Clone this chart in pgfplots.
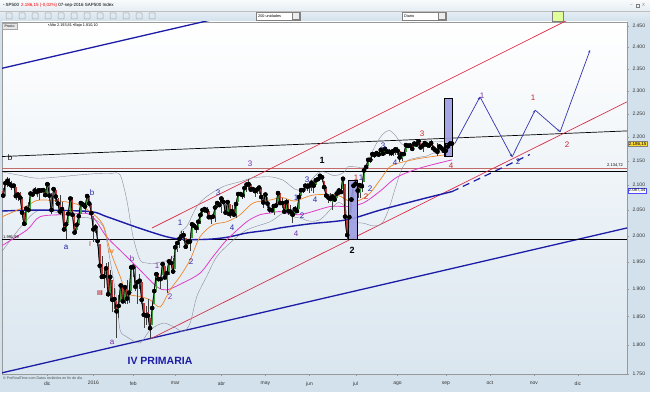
\documentclass[border=0pt]{standalone}
\usepackage{fontspec}
\setmainfont{Liberation Sans}
\usepackage{pgfplots}
\pgfplotsset{compat=1.18}
\usepackage{pgfplotstable}
\usetikzlibrary{arrows.meta}

\definecolor{panel}{HTML}{D2E1EC}
\definecolor{plotbot}{HTML}{DAE6EF}
\definecolor{navy}{HTML}{1C1CA6}
\definecolor{chred}{HTML}{D8304A}
\definecolor{hred}{HTML}{C46A6A}
\definecolor{lav}{HTML}{9C9CE2}
\definecolor{orng}{HTML}{F0862A}
\definecolor{mag}{HTML}{E23CC8}
\definecolor{bgray}{HTML}{8A8A9A}
\definecolor{cgreen}{HTML}{3C9C3C}
\definecolor{cred}{HTML}{C23A3A}
\definecolor{lpurple}{HTML}{7A2EA8}
\definecolor{lblue}{HTML}{2424A8}
\definecolor{lred}{HTML}{C82828}

\pgfplotstableread{
d o h l c
-44 2090 2094 2082 2089
-43 2089 2094 2074 2079
-42 2081 2106 2080 2104
-41 2104 2116 2097 2109
-40 2110 2114 2096 2102
-39 2101 2108 2090 2099
-38 2098 2101 2083 2099
-37 2096 2096 2071 2078
-36 2077 2083 2069 2081
-35 2084 2086 2074 2075
-34 2072 2076 2045 2045
-33 2044 2044 2022 2023
-32 2022 2053 2020 2053
-31 2054 2067 2046 2050
-30 2051 2083 2051 2083
-29 2083 2087 2080 2081
-28 2082 2097 2082 2089
-27 2089 2095 2077 2086
-26 2085 2094 2071 2089
-25 2090 2093 2086 2089
-24 2089 2093 2086 2090
-23 2091 2093 2080 2080
-22 2082 2103 2082 2102
-21 2101 2104 2077 2079
-20 2080 2085 2042 2050
-19 2052 2093 2051 2092
-18 2091 2093 2066 2077
-17 2073 2075 2056 2063
-16 2061 2081 2040 2047
-15 2047 2067 2045 2052
-14 2048 2048 2012 2012
-13 2013 2022 1993 2022
-12 2025 2053 2025 2043
-11 2046 2076 2042 2073
-10 2073 2076 2041 2041
-9 2040 2040 2005 2006
-8 2011 2022 2007 2021
-7 2023 2042 2020 2038
-6 2042 2065 2042 2064
-5 2063 2067 2058 2061
-4 2058 2058 2044 2057
-3 2061 2082 2061 2078
-2 2077 2078 2062 2063
-1 2061 2062 2043 2044
0 2038 2038 1989 2012
1 2014 2022 2005 2016
2 2012 2012 1980 1990
3 1985 1985 1938 1943
4 1946 1961 1918 1922
5 1927 1935 1901 1923
6 1928 1948 1919 1938
7 1940 1950 1886 1890
8 1892 1935 1878 1922
9 1916 1916 1857 1880
10 1888 1901 1864 1881
11 1877 1877 1812 1859
12 1861 1889 1848 1869
13 1877 1909 1877 1906
14 1906 1906 1875 1877
15 1878 1906 1872 1903
16 1903 1916 1872 1882
17 1885 1902 1874 1893
18 1895 1940 1895 1940
19 1936 1947 1921 1940
20 1938 1938 1897 1904
21 1907 1916 1872 1912
22 1911 1927 1900 1915
23 1913 1913 1872 1880
24 1874 1874 1829 1853
25 1848 1868 1834 1852
26 1857 1881 1850 1851
27 1848 1848 1810 1829
28 1834 1865 1834 1865
29 1872 1896 1872 1896
30 1898 1930 1898 1927
31 1927 1930 1915 1918
32 1917 1918 1900 1918
33 1925 1949 1925 1946
34 1943 1943 1919 1921
35 1917 1932 1892 1929
36 1931 1951 1925 1951
37 1955 1962 1940 1948
38 1947 1958 1932 1932
39 1937 1978 1937 1978
40 1975 1987 1969 1986
41 1986 1995 1977 1994
42 1994 2009 1992 1999
43 1996 2008 1990 2001
44 1996 1996 1978 1979
45 1982 1993 1982 1989
46 1991 2005 1970 1989
47 1995 2022 1995 2022
48 2020 2025 2015 2019
49 2015 2017 2006 2015
50 2015 2032 2011 2027
51 2026 2047 2022 2040
52 2041 2052 2041 2050
53 2048 2054 2044 2052
54 2049 2056 2045 2049
55 2048 2048 2035 2036
56 2032 2036 2023 2036
57 2037 2043 2034 2037
58 2036 2056 2027 2055
59 2058 2067 2055 2064
60 2064 2067 2057 2060
61 2056 2075 2044 2073
62 2073 2074 2062 2066
63 2063 2063 2042 2045
64 2045 2067 2039 2066
65 2063 2063 2034 2042
66 2045 2061 2039 2048
67 2050 2062 2041 2041
68 2043 2066 2035 2062
69 2066 2083 2066 2082
70 2082 2087 2079 2082
71 2080 2083 2073 2080
72 2078 2095 2075 2094
73 2096 2104 2087 2101
74 2102 2112 2093 2102
75 2102 2103 2088 2091
76 2092 2096 2084 2092
77 2089 2089 2077 2088
78 2089 2094 2083 2091
79 2093 2099 2083 2095
80 2090 2094 2068 2076
81 2071 2074 2054 2065
82 2067 2084 2067 2081
83 2077 2077 2054 2063
84 2060 2060 2045 2051
85 2053 2060 2045 2050
86 2047 2058 2040 2058
87 2058 2068 2056 2059
88 2062 2084 2062 2084
89 2084 2084 2064 2064
90 2066 2074 2054 2064
91 2063 2065 2043 2047
92 2047 2072 2047 2066
93 2066 2071 2041 2048
94 2048 2061 2038 2047
95 2045 2045 2025 2041
96 2041 2058 2041 2052
97 2052 2056 2047 2048
98 2052 2079 2052 2076
99 2078 2093 2078 2090
100 2091 2093 2084 2090
101 2091 2099 2091 2099
102 2100 2104 2088 2097
103 2094 2100 2085 2099
104 2097 2105 2089 2105
105 2104 2106 2085 2099
106 2100 2113 2100 2110
107 2110 2120 2110 2112
108 2112 2121 2111 2119
109 2115 2117 2107 2116
110 2109 2109 2089 2096
111 2092 2096 2078 2079
112 2077 2082 2064 2075
113 2077 2085 2069 2072
114 2066 2080 2050 2077
115 2078 2078 2071 2071
116 2075 2093 2075 2083
117 2084 2094 2081 2089
118 2090 2093 2084 2086
119 2092 2113 2092 2113
120 2103 2103 2032 2037
121 2031 2031 1992 2001
122 2015 2036 2015 2036
123 2044 2071 2044 2071
124 2073 2099 2071 2099
125 2099 2111 2099 2103
126 2096 2096 2075 2089
127 2084 2102 2075 2100
128 2100 2110 2086 2098
129 2107 2132 2107 2130
130 2132 2144 2132 2137
131 2140 2156 2140 2152
132 2155 2156 2146 2152
133 2157 2169 2157 2164
134 2165 2169 2155 2162
135 2163 2169 2160 2166
136 2164 2166 2159 2163
137 2166 2175 2165 2173
138 2173 2175 2159 2165
139 2167 2176 2163 2175
140 2173 2174 2164 2169
141 2168 2173 2161 2169
142 2170 2174 2159 2166
143 2166 2172 2160 2170
144 2169 2178 2162 2174
145 2174 2178 2162 2171
146 2170 2170 2148 2157
147 2156 2164 2150 2164
148 2163 2168 2159 2164
149 2168 2183 2168 2183
150 2183 2187 2178 2181
151 2182 2187 2179 2182
152 2182 2183 2170 2175
153 2178 2188 2178 2186
154 2183 2186 2180 2184
155 2186 2194 2186 2191
156 2187 2187 2178 2178
157 2178 2183 2168 2182
158 2181 2188 2178 2187
159 2185 2185 2176 2184
160 2181 2185 2176 2182
161 2187 2193 2186 2187
162 2184 2184 2173 2176
163 2175 2179 2169 2172
164 2175 2187 2160 2169
165 2171 2183 2171 2180
166 2181 2183 2172 2176
167 2173 2173 2161 2171
168 2172 2175 2158 2171
169 2177 2185 2173 2180
170 2181 2186 2175 2186
171 2185 2188 2179 2186
}\candles

\begin{document}
\begin{tikzpicture}
\useasboundingbox (0,0) rectangle (650pt,392pt);
\fill[panel] (0,0) rectangle (650pt,392pt);
\shade[top color=white!85!panel, bottom color=panel] (0,370pt) rectangle (650pt,392pt);
\draw[gray!50] (0,381pt) -- (650pt,381pt);

\begin{axis}[
  at={(2pt,18pt)}, anchor=south west,
  scale only axis, width=625pt, height=352pt,
  xmin=-43.6, xmax=254.4,
  ymode=log, ymin=1750, ymax=2458.8,
  axis background/.style={shade, top color=white, bottom color=plotbot},
  axis line style={draw=gray!80},
  xtick={-22,0,19,39,61,82,103,125,145,168,189,210,231},
  xticklabels={dic,2016,feb,mar,abr,may,jun,jul,ago,sep,oct,nov,dic},
  ytick={1750,1800,1850,1900,1950,2000,2050,2100,2150,2200,2250,2300,2350,2400,2450},
  yticklabels={1.750,1.800,1.850,1.900,1.950,2.000,2.050,2.100,2.150,2.200,2.250,2.300,2.350,2.400,2.450},
  yticklabel pos=right,
  tick align=outside, major tick length=2pt,
  tick style={draw=gray!80},
  xtick pos=bottom, ytick pos=right,
  ticklabel style={font=\fontsize{5}{6}\selectfont, text=black!80},
  xticklabel style={yshift=-2pt},
  minor tick num=0,
]
% long trend lines
\addplot[navy, line width=1.3pt] coordinates {(-44.5,2350) (60,2468)};
\addplot[navy, line width=1.3pt] coordinates {(-44.5,1751) (254.5,2015)};
\addplot[black, line width=0.7pt] coordinates {(-44.5,2158.7) (254.5,2213)};
\addplot[hred, line width=1.3pt] coordinates {(-44.5,2134.72) (254.5,2134.72)};
\addplot[black, line width=1.1pt] coordinates {(-44.5,2128) (254.5,2128)};
\addplot[black, line width=1.1pt] coordinates {(-44.5,1991.99) (254.5,1991.99)};
\addplot[chred, line width=0.7pt] coordinates {(28,2015) (232,2478)};
\addplot[chred, line width=0.7pt] coordinates {(27,1810) (254.4,2276)};

% Bollinger bands
\addplot[bgray, line width=0.4pt, smooth] coordinates {
(-44.5,2128) (-35,2120) (-25.5,2114) (-6.4,2121) (3.1,2124) (8.7,2124) (12.7,2121) (15.9,2070) (18.9,1998) (22.2,1954) (25.4,1948) (30.2,1948) (38.1,1960) (41.3,2005) (44.5,2018) (49.3,2057) (54,2077) (61.8,2097) (69.9,2107) (76.1,2115) (84.2,2117) (90,2111) (93,2102) (96,2092) (99,2090) (102,2101) (105,2116) (108,2127) (111,2126) (114,2120) (117,2121) (120,2128) (121,2137) (123,2138) (126,2137) (129,2136) (132,2160) (135,2187) (138,2206) (141,2214) (144,2203) (147,2185) (150,2183) (153,2187) (156,2190) (159,2192) (162,2190) (165,2190) (168,2192) (171,2192)};
\addplot[bgray, line width=0.4pt, smooth] coordinates {
(-44.5,1965) (-34,2020) (-25.4,2050) (-9.7,2037) (-1.6,2034) (4.6,2018) (7.9,1954) (11.1,1880) (12.7,1826) (15.9,1814) (22.2,1803) (27,1826) (33.2,1838) (38,1832) (42.7,1823) (46.1,1838) (49.3,1886) (54,1923) (58.8,1960) (65.1,1986) (73.1,2011) (84.2,2027) (90,2043) (93,2042) (96,2036) (99,2034) (102,2029) (105,2028) (108,2031) (111,2042) (114,2056) (117,2065) (120,2056) (121,2037) (123,2026) (126,2025) (129,2024) (132,2020) (135,2019) (138,2026) (141,2054) (144,2095) (147,2133) (150,2151) (153,2155) (156,2158) (159,2160) (162,2166) (165,2166) (168,2168) (171,2168)};

% 200 SMA
\addplot[navy, line width=1.4pt, smooth] coordinates {
(-44.5,2048) (-25.5,2050) (-1.6,2047) (6.3,2037) (22.2,2014) (35,1998) (42.7,1993) (54,1993) (63.6,1997) (73.1,2005) (84.2,2011) (89,2015) (103.3,2023) (121,2031) (136.7,2050) (155.7,2071) (171,2087)};
\addplot[navy, line width=1.2pt, dash pattern=on 7pt off 5pt] coordinates {(171,2087) (208,2163)};

% magenta average
\addplot[mag, line width=0.8pt, smooth] coordinates {
(-44.5,1979) (-31.7,2011) (-25.4,2037) (-12,2041) (-1.6,2041) (6.3,1998) (14.1,1967) (22.2,1935) (30.2,1904) (35,1898) (42.7,1911) (50.8,1929) (57,1960) (63.6,1992) (73.1,2027) (79.5,2041) (84.2,2044) (89,2047) (98.5,2041) (112.8,2057) (120.8,2057) (128.6,2064) (136.7,2088) (144.6,2116) (155.7,2135) (171,2152)};

% orange average
\addplot[orng, line width=0.7pt, smooth] coordinates {
(-44.5,2035) (-32,2058) (-25.5,2070) (-9.7,2064) (-1.6,2047) (4.6,2021) (7.9,1973) (12.7,1923) (15.9,1892) (22.2,1886) (27,1880) (31.8,1867) (36.5,1898) (41.3,1923) (46.1,1954) (50.8,1998) (57,2021) (63.6,2027) (70,2041) (76.1,2064) (84.2,2070) (90,2075) (96,2068) (104.7,2080) (116,2080) (122.4,2067) (127.1,2070) (131.9,2084) (136.7,2111) (141.4,2138) (146.2,2146) (155.7,2155) (168.5,2163) (171.5,2165)};

% close line (drawn under the candles)
\addplot[black, line width=0.9pt, smooth] table[x=d, y=c] {\candles};

% candles: wicks
\addplot[only marks, mark=none, error bars/.cd, y dir=both, y explicit, error mark=none,
  error bar style={line width=0.4pt, draw=black!75}]
  table[x=d, y=c, y error plus expr=\thisrow{h}-\thisrow{c}, y error minus expr=\thisrow{c}-\thisrow{l}] {\candles};
% up bodies
\addplot[only marks, mark=none, restrict expr to domain={\thisrow{c}-\thisrow{o}}{0:1000},
  error bars/.cd, y dir=minus, y explicit, error mark=none,
  error bar style={line width=1.7pt, draw=cgreen}]
  table[x=d, y=c, y error minus expr=\thisrow{c}-\thisrow{o}] {\candles};
% down bodies
\addplot[only marks, mark=none, restrict expr to domain={\thisrow{o}-\thisrow{c}}{0.5:1000},
  error bars/.cd, y dir=plus, y explicit, error mark=none,
  error bar style={line width=1.7pt, draw=cred}]
  table[x=d, y=c, y error plus expr=\thisrow{o}-\thisrow{c}] {\candles};

% close line overlay (thin)
\addplot[black, line width=0.6pt, smooth] table[x=d, y=c] {\candles};

% highlight boxes
\addplot[fill=lav, fill opacity=0.9, draw=black, line width=0.5pt] coordinates {(121.4,1993) (125.7,1993) (125.7,2110) (121.4,2110) (121.4,1993)};
\addplot[fill=lav, fill opacity=0.9, draw=black, line width=0.5pt] coordinates {(167.2,2159) (171.3,2159) (171.3,2284) (167.2,2284) (167.2,2159)};
\addplot[draw=black, line width=0.5pt] coordinates {(167.6,2159) (171,2159) (171,2186) (167.6,2186) (167.6,2159)};

% projected path
\addplot[navy!90, line width=0.7pt, -{Stealth[length=3pt,width=2.4pt]}] coordinates {(172.4,2187) (184.3,2287)};
\addplot[navy!90, line width=0.7pt, -{Stealth[length=3pt,width=2.4pt]}] coordinates {(184.3,2287) (199.6,2158)};
\addplot[navy!90, line width=0.7pt, -{Stealth[length=3pt,width=2.4pt]}] coordinates {(199.6,2158) (210.6,2258)};
\addplot[navy!90, line width=0.7pt, -{Stealth[length=3pt,width=2.4pt]}] coordinates {(210.6,2258) (222.5,2211)};
\addplot[navy!90, line width=0.7pt, -{Stealth[length=3pt,width=2.4pt]}] coordinates {(222.5,2211) (236.8,2393)};
\end{axis}

% header texts
\node[anchor=west, font=\fontsize{4.5}{5}\selectfont, inner sep=0pt] at (3pt,387pt) {\textcolor{cgreen}{\textbullet}\,SP500 \,\textcolor{red}{2.186,15 (-0,02\%)} 07-sep-2016 SAP500 Index};
\foreach \i in {0,...,11} {\draw[gray!70, line width=0.5pt, rounded corners=0.5pt] ({6pt+\i*13pt},373pt) rectangle ({12pt+\i*13pt},379pt);}
\draw[fill=white, draw=gray] (256pt,372pt) rectangle (300pt,380pt);
\node[anchor=west, font=\fontsize{3.8}{4}\selectfont, inner sep=0pt] at (258pt,376pt) {200 unidades};
\draw[fill=gray!15, draw=gray] (292pt,372.5pt) rectangle (299.5pt,379.5pt);
\draw[fill=white, draw=gray] (402pt,372pt) rectangle (446pt,380pt);
\node[anchor=west, font=\fontsize{3.8}{4}\selectfont, inner sep=0pt] at (404pt,376pt) {Diario};
\draw[fill=gray!15, draw=gray] (438pt,372.5pt) rectangle (445.5pt,379.5pt);
\draw[fill=green!30!yellow!40, draw=gray] (552pt,371pt) rectangle (563pt,381pt);
\node[anchor=west, font=\fontsize{4.5}{5}\selectfont, text=gray, inner sep=0pt] at (630pt,387pt) {\_};
\draw[gray, line width=0.4pt] (636pt,385pt) rectangle (639pt,388pt);
\node[anchor=west, font=\fontsize{4.5}{5}\selectfont, text=gray, inner sep=0pt] at (642pt,387pt) {X};
\draw[fill=gray!20, draw=gray!70] (2pt,363pt) rectangle (17pt,369pt);
\node[font=\fontsize{3.5}{4}\selectfont, inner sep=0pt] at (9.5pt,366pt) {Precio};
\node[anchor=west, font=\fontsize{3.8}{4}\selectfont, inner sep=0pt] at (48pt,366pt) {\textbullet Alto 2.193,81 \textbullet Bajo 1.810,10};
\node[anchor=west, font=\fontsize{3.6}{4}\selectfont, text=black!70, inner sep=0pt] at (3pt,14pt) {\textcopyright{} ProRealTime.com Datos recibidos en fin de día};

% price labels on axis
\node[fill=yellow!70!orange!80, draw=black!50, font=\fontsize{4.5}{5}\selectfont, inner sep=0.6pt, anchor=west] at (628pt,{392pt-144pt}) {2.186,15};
\node[fill=white, draw=blue!70, font=\fontsize{4.3}{5}\selectfont, inner sep=0.5pt, anchor=west] at (628pt,{392pt-190.5pt}) {2.087,34};
\node[font=\fontsize{4}{5}\selectfont, inner sep=0pt, anchor=east] at (623pt,{392pt-165pt}) {2.134,72};
\node[font=\fontsize{4}{5}\selectfont, inner sep=0pt, anchor=west] at (3pt,{392pt-237pt}) {1.991,99};

% wave labels
\node[font=\fontsize{8}{9}\selectfont, inner sep=0pt] at (10pt,{392pt-158pt}) {b};
\node[text=lblue, font=\fontsize{8}{9}\selectfont, inner sep=0pt] at (66pt,{392pt-247pt}) {a};
\node[text=lblue, font=\fontsize{8}{9}\selectfont, inner sep=0pt] at (92pt,{392pt-193pt}) {b};
\node[text=lred, font=\fontsize{7}{8}\selectfont, inner sep=0pt] at (90pt,{392pt-244pt}) {I};
\node[text=lred, font=\fontsize{7}{8}\selectfont\bfseries, inner sep=0pt] at (100pt,{392pt-293pt}) {III};
\node[text=orng, font=\fontsize{7}{8}\selectfont\bfseries, inner sep=0pt] at (111pt,{392pt-251pt}) {iv};
\node[text=lpurple, font=\fontsize{8}{9}\selectfont, inner sep=0pt] at (132pt,{392pt-259pt}) {b};
\node[text=lpurple, font=\fontsize{8}{9}\selectfont, inner sep=0pt] at (112pt,{392pt-342pt}) {a};
\node[text=lpurple, font=\fontsize{8}{9}\selectfont, inner sep=0pt] at (157pt,{392pt-266pt}) {1};
\node[text=lpurple, font=\fontsize{8}{9}\selectfont, inner sep=0pt] at (170pt,{392pt-297pt}) {2};
\node[text=lblue, font=\fontsize{8}{9}\selectfont, inner sep=0pt] at (180pt,{392pt-223pt}) {1};
\node[text=lblue, font=\fontsize{8}{9}\selectfont, inner sep=0pt] at (191pt,{392pt-262pt}) {2};
\node[text=lblue, font=\fontsize{8}{9}\selectfont, inner sep=0pt] at (218pt,{392pt-193pt}) {3};
\node[text=lblue, font=\fontsize{8}{9}\selectfont, inner sep=0pt] at (232pt,{392pt-228pt}) {4};
\node[text=lpurple, font=\fontsize{8}{9}\selectfont, inner sep=0pt] at (250pt,{392pt-164pt}) {3};
\node[text=lblue, font=\fontsize{8}{9}\selectfont, inner sep=0pt] at (296pt,{392pt-198pt}) {1};
\node[text=lblue, font=\fontsize{8}{9}\selectfont, inner sep=0pt] at (302pt,{392pt-216pt}) {2};
\node[text=lblue, font=\fontsize{8}{9}\selectfont, inner sep=0pt] at (307pt,{392pt-180pt}) {3};
\node[text=lblue, font=\fontsize{8}{9}\selectfont, inner sep=0pt] at (315pt,{392pt-200pt}) {4};
\node[text=lpurple, font=\fontsize{8}{9}\selectfont, inner sep=0pt] at (296pt,{392pt-234pt}) {4};
\node[text=black, font=\fontsize{9}{10}\selectfont\bfseries, inner sep=0pt] at (322pt,{392pt-160pt}) {1};
\node[text=black, font=\fontsize{9}{10}\selectfont\bfseries, inner sep=0pt] at (352pt,{392pt-250pt}) {2};
\node[text=lred, font=\fontsize{8}{9}\selectfont, inner sep=0pt] at (356pt,{392pt-178pt}) {1};
\node[text=lblue, font=\fontsize{8}{9}\selectfont, inner sep=0pt] at (361pt,{392pt-178pt}) {1};
\node[text=lred, font=\fontsize{8}{9}\selectfont, inner sep=0pt] at (366pt,{392pt-197pt}) {2};
\node[text=lblue, font=\fontsize{8}{9}\selectfont, inner sep=0pt] at (370pt,{392pt-189pt}) {2};
\node[text=lblue, font=\fontsize{8}{9}\selectfont, inner sep=0pt] at (383pt,{392pt-146pt}) {3};
\node[text=lblue, font=\fontsize{8}{9}\selectfont, inner sep=0pt] at (395pt,{392pt-163pt}) {4};
\node[text=lred, font=\fontsize{8}{9}\selectfont, inner sep=0pt] at (422pt,{392pt-134pt}) {3};
\node[text=lred, font=\fontsize{8}{9}\selectfont, inner sep=0pt] at (451pt,{392pt-166pt}) {4};
\node[text=lpurple, font=\fontsize{8}{9}\selectfont, inner sep=0pt] at (482pt,{392pt-96pt}) {1};
\node[text=lblue, font=\fontsize{8}{9}\selectfont, inner sep=0pt] at (518pt,{392pt-162pt}) {2};
\node[text=lred, font=\fontsize{8}{9}\selectfont, inner sep=0pt] at (533pt,{392pt-98pt}) {1};
\node[text=lred, font=\fontsize{8}{9}\selectfont, inner sep=0pt] at (567pt,{392pt-145pt}) {2};
\node[text=navy, font=\fontsize{10.5}{12}\selectfont\bfseries, inner sep=0pt] at (160pt,{392pt-361pt}) {IV PRIMARIA};
\end{tikzpicture}
\end{document}
